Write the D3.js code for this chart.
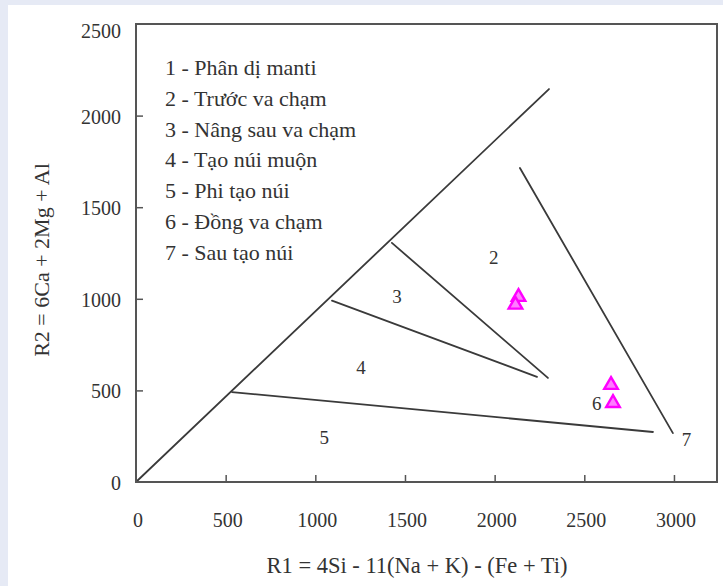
<!DOCTYPE html>
<html>
<head>
<meta charset="utf-8">
<script src="https://cdn.jsdelivr.net/npm/d3@7"></script>
<style>
  html, body { margin: 0; padding: 0; background: #e6eaf5; }
  svg { display: block; }
  text { font-family: "Liberation Serif", "Times New Roman", serif; fill: #333; }
</style>
</head>
<body>
<svg id="chart" width="723" height="586"></svg>
<script>
// Axis ticks
const xTicks = [0, 500, 1000, 1500, 2000, 2500, 3000];
const yTicks = [0, 500, 1000, 1500, 2000, 2500];

// Field boundaries of the R1–R2 diagram, as [R1, R2] endpoints
const boundaryNames = ["diagonal", "field2Right", "field5Top", "field4Top", "field3Top"];
const boundaryStart = [[0, 0], [2141, 1714], [535, 491], [1093, 990], [1427, 1305]];
const boundaryEnd   = [[2303, 2145], [2994, 267], [2883, 273], [2236, 574], [2297, 568]];

// Field numbers placed inside the diagram
const fieldLabels = ["2", "3", "4", "5", "6", "7"];
const fieldR1     = [1995, 1455, 1255, 1050, 2570, 3070];
const fieldR2     = [1225, 1015, 625, 245, 430, 235];

// Legend entries
const legendItems = [
  "1 - Phân dị manti",
  "2 - Trước va chạm",
  "3 - Nâng sau va chạm",
  "4 - Tạo núi muộn",
  "5 - Phi tạo núi",
  "6 - Đồng va chạm",
  "7 - Sau tạo núi"
];

// Samples
const sampleR1 = [2133, 2116, 2649, 2660];
const sampleR2 = [1010, 968, 530, 431];

const svg = d3.select("#chart");

// White panel
svg.append("rect").attr("x", 8).attr("y", 5).attr("width", 715).attr("height", 581).attr("fill", "#ffffff");

const x = d3.scaleLinear().domain([0, 3240]).range([136, 717]);
const y = d3.scaleLinear().domain([0, 2500]).range([482, 24]);

const frameColor = "#555";

// Boundary lines
const lines = boundaryNames.map((n, i) => ({ name: n, a: boundaryStart[i], b: boundaryEnd[i] }));
svg.append("g").selectAll("line").data(lines).join("line")
  .attr("x1", d => x(d.a[0])).attr("y1", d => y(d.a[1]))
  .attr("x2", d => x(d.b[0])).attr("y2", d => y(d.b[1]))
  .attr("stroke", "#3a3a3a").attr("stroke-width", 1.8).attr("stroke-linecap", "round");

// Axes with inward ticks
const xAxis = d3.axisBottom(x).tickValues(xTicks).tickSize(-7).tickPadding(0).tickFormat("");
svg.append("g").attr("transform", `translate(0,${y(0)})`).call(xAxis)
  .call(g => g.select(".domain").remove())
  .call(g => g.selectAll(".tick line").attr("stroke", frameColor).attr("stroke-width", 1.5))
  .call(g => g.selectAll(".tick").filter(d => d === 0).remove());

const yAxis = d3.axisLeft(y).tickValues(yTicks.filter(v => v > 0 && v < 2500)).tickSize(-7).tickFormat("");
svg.append("g").attr("transform", `translate(${x(0)},0)`).call(yAxis)
  .call(g => g.select(".domain").remove())
  .call(g => g.selectAll(".tick line").attr("stroke", frameColor).attr("stroke-width", 1.5));

// Frame
svg.append("rect")
  .attr("x", x(0)).attr("y", y(2500))
  .attr("width", x.range()[1] - x(0)).attr("height", y(0) - y(2500))
  .attr("fill", "none").attr("stroke", frameColor).attr("stroke-width", 2);

// Tick labels
svg.append("g").selectAll("text").data(xTicks).join("text")
  .attr("x", d => x(d) + 2).attr("y", y(0) + 45)
  .attr("text-anchor", "middle").attr("font-size", 20)
  .text(d => d);

svg.append("g").selectAll("text").data(yTicks).join("text")
  .attr("x", x(0) - 15)
  .attr("y", d => d === 2500 ? y(d) + 7 : y(d) + 1)
  .attr("dy", "0.35em")
  .attr("text-anchor", "end").attr("font-size", 20)
  .text(d => d);

// Axis titles
svg.append("text")
  .attr("x", 417).attr("y", 573)
  .attr("text-anchor", "middle").attr("font-size", 22.5)
  .text("R1 = 4Si - 11(Na + K) - (Fe + Ti)");

svg.append("text")
  .attr("transform", "translate(49,260) rotate(-90)")
  .attr("text-anchor", "middle").attr("font-size", 22)
  .text("R2 = 6Ca + 2Mg + Al");

// Legend
svg.append("g").selectAll("text").data(legendItems).join("text")
  .attr("x", 165).attr("y", (d, i) => 75 + i * 30.8)
  .attr("font-size", 22)
  .text(d => d);

// Field numbers
svg.append("g").selectAll("text").data(fieldLabels).join("text")
  .attr("x", (d, i) => x(fieldR1[i])).attr("y", (d, i) => y(fieldR2[i]))
  .attr("dy", "0.35em").attr("text-anchor", "middle").attr("font-size", 19)
  .text(d => d);

// Samples as triangles
const tri = d3.symbol().type(d3.symbolTriangle).size(80);
svg.append("g").selectAll("path").data(sampleR1.map((v, i) => [v, sampleR2[i]])).join("path")
  .attr("transform", d => `translate(${x(d[0])},${y(d[1])})`)
  .attr("d", tri)
  .attr("fill", "#ff7dff").attr("stroke", "#ff00ff").attr("stroke-width", 2.4);
</script>
</body>
</html>
